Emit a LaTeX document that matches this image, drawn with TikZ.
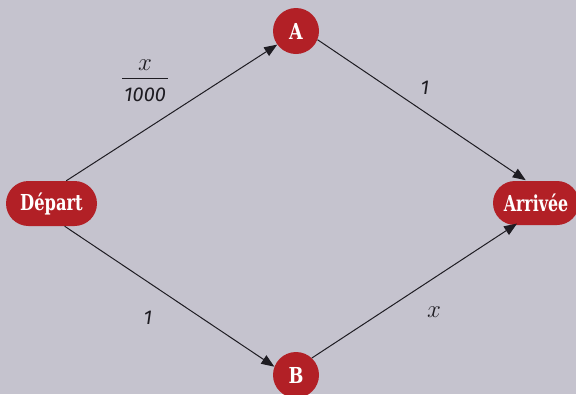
\documentclass[tikz,border=0pt]{standalone}
\usepackage{fontspec}
\usetikzlibrary{arrows.meta,shapes.misc}
\newfontfamily\nodefont{DejaVu Serif}[BoldFont={DejaVu Serif Bold}]
\newfontfamily\labfont{Fira Sans}
\definecolor{bgc}{RGB}{197,195,206}
\definecolor{nodered}{RGB}{178,32,38}
\definecolor{linec}{RGB}{30,28,34}
\tikzset{
  pill/.style={rounded rectangle, fill=nodered, text=white, inner sep=0pt,
    font=\nodefont\bfseries\fontsize{22}{22}\selectfont},
  dot/.style={circle, fill=nodered, text=white, inner sep=0pt, minimum size=46pt,
    font=\nodefont\bfseries\fontsize{22}{22}\selectfont},
  edge/.style={draw=linec, line width=1pt, -{Triangle[length=13pt,width=10pt]}},
  lab/.style={text=linec, inner sep=0pt, font=\labfont\itshape\fontsize{20}{20}\selectfont},
  xlab/.style={text=linec, inner sep=0pt, font=\fontsize{27}{27}\selectfont}
}
\begin{document}
\begin{tikzpicture}[x=1pt,y=-1pt]
\fill[bgc] (0,0) rectangle (576,394);
\useasboundingbox (0,0) rectangle (576,394);
\node[pill, minimum width=91pt, minimum height=45pt] (dep) at (51.5,203.5) {\scalebox{0.74}[1]{Départ}};
\node[pill, minimum width=86pt, minimum height=44pt] (arr) at (536,203) {\scalebox{0.72}[1]{Arrivée}};
\node[dot] (A) at (296,31) {\scalebox{0.8}[1]{A}};
\node[dot] (B) at (296,375) {\scalebox{0.8}[1]{B}};
\draw[edge] (dep.57) -- (A.216);
\draw[edge] (dep.-60) -- (B.159);
\draw[edge, shorten >=1pt] (A.-22) -- (arr.113);
\draw[edge, shorten >=-3pt] (B.47) -- (arr.226);
\node[xlab] (lxa) at (145,65) {$x$};
\node[lab] (lxb) at (145,95) {1000};
\draw[linec, line width=0.8pt] (122,78) coordinate (bl) -- (168,78) coordinate (br);
\node[lab] (l1a) at (425,88) {1};
\node[lab] (l1b) at (148,318) {1};
\node[xlab] (lx2) at (434,312) {$x$};
\end{tikzpicture}
\end{document}
